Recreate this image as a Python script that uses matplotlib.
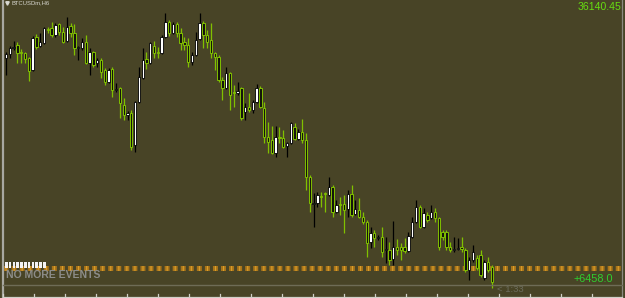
import matplotlib
matplotlib.use("Agg")
import matplotlib.pyplot as plt
from matplotlib.patches import Rectangle
import numpy as np

# BTCUSDm H6 candles (price units)
opens = [35620, 35660, 35720, 35750, 35680, 35670, 35620, 35500, 35830, 35740,
         35770, 35910, 35920, 35850, 35960, 35880, 35790, 35940, 35870, 35720,
         35720, 35780, 35570, 35680, 35570, 35600, 35500, 35380, 35510, 35300,
         35320, 35150, 35050, 35070, 34750, 35180, 35420, 35610, 35570, 35740,
         35680, 35670, 35830, 35980, 35870, 35960, 35870, 35780, 35750, 35580,
         35650, 35810,
         35970, 35850, 35800, 35670, 35630, 35400, 35320, 35470, 35280, 35270,
         35320, 35080, 35130, 35100, 35180, 35320, 35120, 34830, 34800, 34670,
         34830, 34820, 34740, 34770, 34930, 34810, 34880, 34800, 34430, 34160,
         34170, 34240, 34270, 34250, 34330, 34080, 34160, 34160, 34110, 34260,
         34060, 34100, 34030, 33980, 33780, 33870, 33820, 33830, 33700, 33700,
         33610, 33730, 33730, 33730, 33690, 33830, 33980, 34130, 33930, 34050,
         34020, 34080, 34020, 33880, 33880, 33730, 33700, 33710, 33730, 33700,
         33500, 33600, 33620, 33650, 33420, 33580, 33530]
highs = [35680, 35740, 35790, 35780, 35710, 35680, 35630, 35840, 35860, 35870,
         35930, 35930, 35980, 35970, 35970, 35930, 36030, 35970, 35960, 35740,
         35820, 35850, 35720, 35690, 35620, 35620, 35520, 35520, 35530, 35370,
         35330, 35220, 35090, 35100, 35190, 35530, 35720, 35680, 35780, 35790,
         35730, 35850, 36070, 36000, 35980, 35980, 35920, 35830, 35820, 35680,
         35880, 36070,
         35990, 35900, 35970, 35680, 35650, 35430, 35530, 35480, 35350, 35380,
         35330, 35170, 35270, 35200, 35360, 35340, 35180, 34980, 34940, 34940,
         34930, 34900, 34780, 34980, 34970, 34910, 35010, 34870, 34450, 34270,
         34280, 34280, 34280, 34430, 34350, 34200, 34230, 34250, 34300, 34350,
         34200, 34220, 34080, 34000, 33930, 33900, 33850, 33930, 33830, 33780,
         33990, 33810, 33770, 33820, 33880, 34030, 34200, 34150, 34120, 34080,
         34150, 34120, 34030, 33900, 33900, 33780, 33830, 33820, 33830, 33720,
         33630, 33750, 33650, 33700, 33600, 33630, 33550]
lows = [35450, 35620, 35700, 35570, 35570, 35570, 35390, 35490, 35710, 35730,
        35760, 35870, 35830, 35830, 35850, 35770, 35780, 35830, 35650, 35600,
        35700, 35560, 35450, 35530, 35530, 35420, 35350, 35370, 35230, 35280,
        35020, 35000, 35000, 34700, 34680, 35170, 35410, 35510, 35560, 35620,
        35620, 35660, 35820, 35840, 35860, 35830, 35700, 35700, 35530, 35550,
        35640, 35800,
        35720, 35720, 35620, 35500, 35380, 35200, 35310, 35100, 35130, 35250,
        35000, 35000, 35080, 35070, 35170, 35120, 34770, 34670, 34660, 34630,
        34770, 34720, 34630, 34760, 34800, 34800, 34770, 34300, 34080, 33930,
        34130, 34130, 34080, 34240, 34030, 34070, 34050, 33870, 34030, 34030,
        34050, 34020, 33960, 33630, 33720, 33730, 33800, 33630, 33570, 33550,
        33550, 33650, 33600, 33670, 33680, 33820, 33970, 33920, 33920, 33980,
        34010, 33980, 33700, 33800, 33700, 33680, 33680, 33700, 33680, 33480,
        33400, 33580, 33500, 33430, 33400, 33480, 33320]
closes = [35660, 35720, 35730, 35670, 35670, 35610, 35490, 35820, 35730, 35780,
          35920, 35900, 35850, 35950, 35880, 35780, 35930, 35870, 35720, 35730,
          35780, 35570, 35680, 35550, 35600, 35480, 35380, 35500, 35300, 35310,
          35170, 35050, 35070, 34730, 35180, 35430, 35600, 35570, 35770, 35670,
          35670, 35830, 35980, 35870, 35960, 35870, 35770, 35750, 35580, 35650,
          35800, 35970,
          35850, 35780, 35670, 35630, 35400, 35320, 35470, 35250, 35270, 35290,
          35020, 35130, 35100, 35180, 35320, 35130, 34830, 34780, 34670, 34830,
          34820, 34730, 34770, 34970, 34810, 34880, 34800, 34430, 34170, 34170,
          34250, 34230, 34260, 34330, 34080, 34150, 34150, 34100, 34260, 34050,
          34110, 34030, 33980, 33770, 33870, 33820, 33830, 33680, 33710, 33600,
          33730, 33700, 33700, 33690, 33840, 33980, 34130, 33930, 34070, 34000,
          34080, 34020, 33730, 33830, 33730, 33700, 33710, 33720, 33710, 33500,
          33600, 33680, 33520, 33450, 33580, 33500, 33380]

price_label = "36140.45"
profit_label = "+6458.0"
timer_label = "< 1:33"
symbol_label = "BTCUSDm,H6"

# colours of the terminal theme
bg = "#484426"
bull_body = "#ffffff"
bull_line = "#000000"
bear_body = "#15150a"
bear_line = "#80c000"

W, H = 625, 298
plt.rcParams["lines.scale_dashes"] = False

fig = plt.figure(figsize=(W / 100, H / 100), dpi=100, facecolor=bg)
ax = fig.add_axes([0, 0, 1, 1])
ax.set_facecolor(bg)
ax.axis("off")

n = len(opens)
x = np.arange(n)
o = np.array(opens)
h = np.array(highs)
l = np.array(lows)
c = np.array(closes)
up = c >= o

# candle spacing in px, first candle at 6 px, last near 492 px
step = (492 - 6) / (n - 1)
ax.set_xlim(-6 / step, (W - 6) / step)
ax.set_ylim(36200 - 10 * H, 36200)

# wicks
ax.vlines(x[up], l[up], h[up], color=bull_line, linewidth=0.9, zorder=3)
ax.vlines(x[~up], l[~up], h[~up], color=bear_line, linewidth=0.9, zorder=3)

# bodies
body_h = np.maximum(np.abs(c - o), 8)
ax.bar(x[up], body_h[up], bottom=np.minimum(o, c)[up], width=0.62,
       color=bull_body, edgecolor=bull_line, linewidth=0.6, zorder=4)
ax.bar(x[~up], body_h[~up], bottom=np.minimum(o, c)[~up], width=0.62,
       color=bear_body, edgecolor=bear_line, linewidth=0.7, zorder=4)

# helper: pixel -> axes fraction
def px(xp):
    return xp / W

def py(yp):
    return 1 - yp / H

tr = ax.transAxes

# event line (orange dashes) near bottom
ax.plot([px(3), px(622)], [py(267.5), py(267.5)], transform=tr,
        color="#a8741a", linewidth=3.6, linestyle=(0, (3.6, 2.2)), zorder=2)
ax.plot([px(5), px(622)], [py(267.5), py(267.5)], transform=tr,
        color="#dca02a", linewidth=3.6, linestyle=(0, (0.8, 5.0)), zorder=2)

# small white event markers at the left
for k in range(11):
    xx = 5 + k * 3.8
    ax.add_patch(Rectangle((px(xx), py(268)), px(2.6), 6 / H, transform=tr,
                           facecolor="#f4f4f4", edgecolor="none", zorder=5))

# frame lines
ax.plot([px(2.5), px(2.5)], [0, 1], transform=tr, color="#a8a8a0", linewidth=1.6, zorder=6)
ax.plot([px(622), px(622)], [0, 1], transform=tr, color="#8a8a80", linewidth=0.9, zorder=6)
ax.plot([px(3), px(622)], [py(285), py(285)], transform=tr, color="#6e6c56", linewidth=1.0, zorder=6)
ax.plot([px(3), px(622)], [py(296.5), py(296.5)], transform=tr, color="#d0d0c8", linewidth=0.9, zorder=6)
for t in np.arange(3, 622, 31):
    ax.plot([px(t), px(t)], [py(296.5), py(293.5)], transform=tr, color="#d0d0c8", linewidth=0.9, zorder=6)

# texts
ax.text(px(6), py(275.5), "NO MORE EVENTS", transform=tr, color="#8c8c88",
        fontsize=7.5, fontweight="bold", family="Liberation Sans", va="center", ha="left", zorder=7)
ax.text(px(613), py(279), profit_label, transform=tr, color="#2fcf2f",
        fontsize=7.8, family="Liberation Sans", va="center", ha="right", zorder=7)
ax.text(px(497), py(289.5), timer_label, transform=tr, color="#6c6c5c",
        fontsize=6.8, family="Liberation Sans", va="center", ha="left", zorder=7)
ax.text(px(621), py(6.5), price_label, transform=tr, color="#66dd11",
        fontsize=7.6, family="Liberation Sans", va="center", ha="right", zorder=7)
ax.text(px(11), py(3), symbol_label, transform=tr, color="#d8d8d0",
        fontsize=4.2, family="Liberation Sans", va="center", ha="left", zorder=7)
ax.plot([px(6.5)], [py(3)], marker="v", markersize=2.5, color="#d8d8d0",
        transform=tr, zorder=7)

fig.savefig("out.png", dpi=100, facecolor=bg)
